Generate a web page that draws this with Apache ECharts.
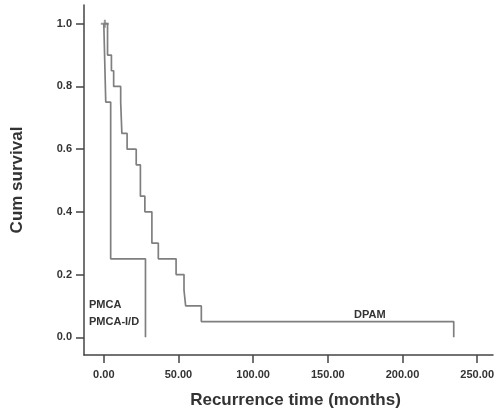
<!DOCTYPE html>
<html>
<head>
<meta charset="utf-8">
<script src="https://cdn.jsdelivr.net/npm/echarts@6/dist/echarts.min.js"></script>
<style>
  html, body { margin: 0; padding: 0; background: #fff; }
  #chart { width: 497px; height: 414px; }
</style>
</head>
<body>
<div id="chart"></div>
<script>
// Kaplan-Meier steps (months, cumulative survival)
const pmcaTime = [0, 1.3, 4.6, 27.9];
const pmcaSurv = [1.0, 0.75, 0.25, 0];
const dpamTime = [0, 2.5, 5.1, 6.6, 11.3, 12.1, 15.6, 21.7, 24.5, 27.5, 32.2, 36.5, 48.4, 53.7, 54.8, 65.3, 234.3];
const dpamSurv = [1.0, 0.9, 0.85, 0.80, 0.75, 0.65, 0.60, 0.55, 0.45, 0.40, 0.30, 0.25, 0.20, 0.15, 0.10, 0.05, 0];
const censorTime = [0.7];
const censorSurv = [1.0];
const xTicks = [0, 50, 100, 150, 200, 250];
const yTicks = [0, 0.2, 0.4, 0.6, 0.8, 1.0];

const font = "'Liberation Sans', Arial, sans-serif";
const curveColor = '#7f7f7f';
const axisColor = '#444';

function pairs(xs, ys) {
    return xs.map((x, i) => [x, ys[i]]);
}

const chart = echarts.init(document.getElementById('chart'));
chart.setOption({
    animation: false,
    backgroundColor: '#fff',
    grid: { left: 84, right: 0, top: 5, bottom: 54 },
    xAxis: {
        type: 'value',
        min: -13.26,
        max: 260.6,
        name: 'Recurrence time (months)',
        nameLocation: 'middle',
        nameGap: 37,
        nameTextStyle: { fontFamily: font, fontWeight: 'bold', fontSize: 17, color: '#333', padding: [0, 0, 0, 14] },
        axisLine: { onZero: false, lineStyle: { color: axisColor, width: 1.5 } },
        axisTick: { show: true, length: 8, lineStyle: { color: axisColor, width: 1.5 }, customValues: xTicks },
        axisLabel: {
            customValues: xTicks,
            margin: 14,
            fontFamily: font, fontWeight: 'bold', fontSize: 11, color: '#333',
            formatter: v => v.toFixed(2)
        },
        splitLine: { show: false }
    },
    yAxis: {
        type: 'value',
        min: -0.0566,
        max: 1.0597,
        name: 'Cum survival',
        nameLocation: 'middle',
        nameGap: 58,
        nameTextStyle: { fontFamily: font, fontWeight: 'bold', fontSize: 17, color: '#333' },
        axisLine: { show: true, onZero: false, lineStyle: { color: axisColor, width: 1.5 } },
        axisTick: { show: true, length: 8, lineStyle: { color: axisColor, width: 1.5 }, customValues: yTicks },
        axisLabel: {
            customValues: yTicks,
            margin: 12,
            fontFamily: font, fontWeight: 'bold', fontSize: 11, color: '#333',
            formatter: v => v.toFixed(1)
        },
        splitLine: { show: false }
    },
    series: [
        {
            name: 'PMCA',
            type: 'line',
            step: 'end',
            data: pairs(pmcaTime, pmcaSurv),
            showSymbol: false,
            lineStyle: { color: curveColor, width: 1.7 }
        },
        {
            name: 'DPAM',
            type: 'line',
            step: 'end',
            data: pairs(dpamTime, dpamSurv),
            showSymbol: false,
            lineStyle: { color: curveColor, width: 1.7 }
        },
        {
            name: 'censored',
            type: 'scatter',
            data: pairs(censorTime, censorSurv),
            symbol: 'path://M3,0H5V3H8V5H5V8H3V5H0V3H3Z',
            symbolSize: 8,
            itemStyle: { color: curveColor }
        }
    ],
    graphic: [
        { type: 'text', left: 89, top: 299, style: { text: 'PMCA', font: 'bold 11px ' + font, fill: '#333' } },
        { type: 'text', left: 89, top: 316, style: { text: 'PMCA-I/D', font: 'bold 11px ' + font, fill: '#333' } },
        { type: 'text', left: 354, top: 309, style: { text: 'DPAM', font: 'bold 11px ' + font, fill: '#333' } }
    ]
});
</script>
</body>
</html>
